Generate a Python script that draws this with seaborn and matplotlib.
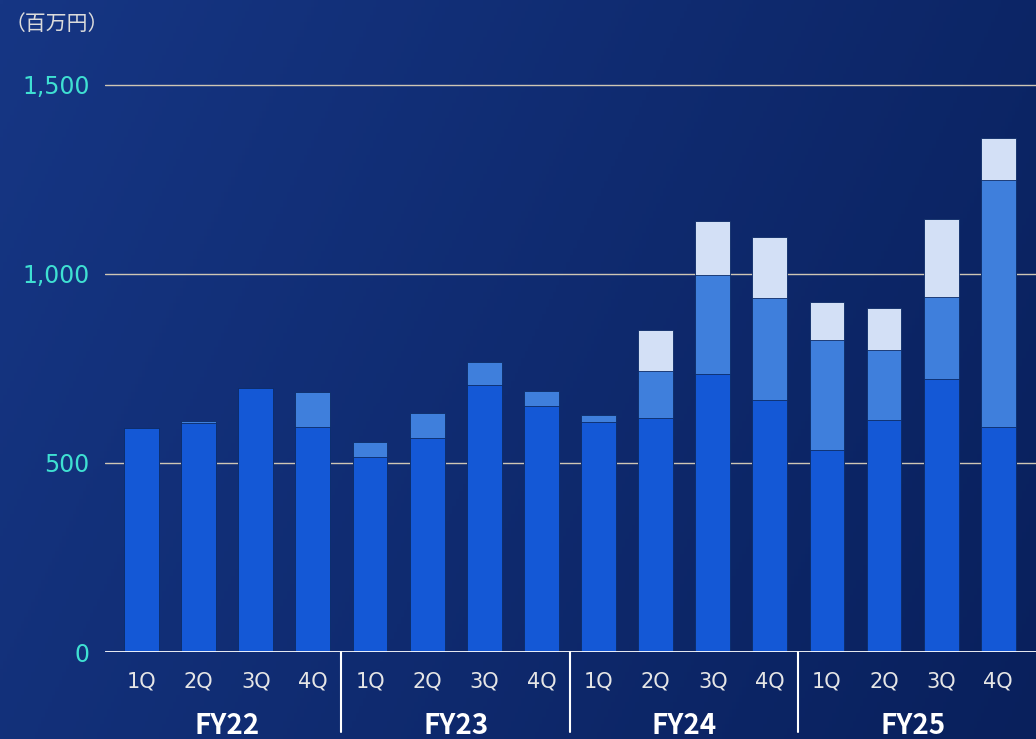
import numpy as np
import pandas as pd
import seaborn as sns
import matplotlib.pyplot as plt

# data (百万円)
fiscal_years = ["FY22", "FY23", "FY24", "FY25"]
quarters = ["1Q", "2Q", "3Q", "4Q"]
base = [592, 605, 698, 595,
        516, 566, 706, 651,
        608, 619, 735, 667,
        534, 614, 722, 595]
middle = [0, 6, 0, 93,
          40, 66, 61, 39,
          19, 124, 262, 270,
          291, 185, 217, 654]
upper = [0, 0, 0, 0,
         0, 0, 0, 0,
         0, 109, 143, 161,
         101, 111, 206, 111]

periods = [fy + " " + q for fy in fiscal_years for q in quarters]
df = pd.DataFrame({"period": periods, "base": base, "middle": middle, "upper": upper})
df["lvl2"] = df["base"] + df["middle"]
df["lvl3"] = df["lvl2"] + df["upper"]

sns.set_theme(style="white")
plt.rcParams["font.family"] = ["Noto Sans CJK JP", "DejaVu Sans"]

fig = plt.figure(figsize=(10.36, 7.39), dpi=100)

# background gradient
bg = fig.add_axes([0, 0, 1, 1], zorder=-10)
gx = np.linspace(0, 1, 300)
gy = np.linspace(0, 1, 200)
X, Y = np.meshgrid(gx, gy)
c_left = np.array([22, 54, 132]) / 255
c_right = np.array([9, 32, 92]) / 255
t = np.clip(0.75 * X + 0.25 * (1 - Y), 0, 1)[..., None]
img = c_left * (1 - t) + c_right * t
bg.imshow(img, aspect="auto", extent=[0, 1, 0, 1], origin="lower")
bg.set_axis_off()

ax = fig.add_axes([105 / 1036, 1 - 652 / 739, 1 - 105 / 1036, (652 - 60) / 739])
ax.patch.set_alpha(0)

common = dict(data=df, x="period", order=periods, width=0.61, saturation=1,
              edgecolor="#0b2a66", linewidth=0.6, ax=ax, zorder=3)
sns.barplot(y="lvl3", color="#d3e0f6", **common)
sns.barplot(y="lvl2", color="#3f7fdc", **common)
sns.barplot(y="base", color="#1458d6", **common)

ax.set_xlim(-0.64, 15.66)
ax.set_ylim(0, 1566)
ax.set_yticks([0, 500, 1000, 1500])
ax.set_yticklabels(["0", "500", "1,000", "1,500"], color="#3fe0d2", fontsize=17,
                   family=["DejaVu Sans"])
ax.tick_params(axis="y", length=0, pad=11)
for v in [500, 1000, 1500]:
    ax.axhline(v, color="#cfc6b4", linewidth=1.0, zorder=1)
ax.axhline(0, color="white", linewidth=2, zorder=4)

ax.set_xticks(range(len(periods)))
ax.set_xticklabels(quarters * len(fiscal_years), color="#e6e6e6", fontsize=15,
                   family=["DejaVu Sans"])
ax.tick_params(axis="x", length=0, pad=14)
ax.set_xlabel("")
ax.set_ylabel("")
for s in ax.spines.values():
    s.set_visible(False)

# group separators and fiscal-year labels
for i in range(1, len(fiscal_years)):
    ax.plot([4 * i - 0.5, 4 * i - 0.5], [0, -0.135], transform=ax.get_xaxis_transform(),
            color="white", linewidth=1.5, clip_on=False, zorder=5)
for i, fy in enumerate(fiscal_years):
    ax.text(4 * i + 1.5, -0.125, fy, transform=ax.get_xaxis_transform(),
            ha="center", va="center", color="white", fontsize=20, fontweight="bold")

fig.text(5 / 1036, 1 - 24 / 739, "（百万円）", color="#dcdcdc", fontsize=15,
         ha="left", va="center")

fig.savefig("out.png", dpi=100)
